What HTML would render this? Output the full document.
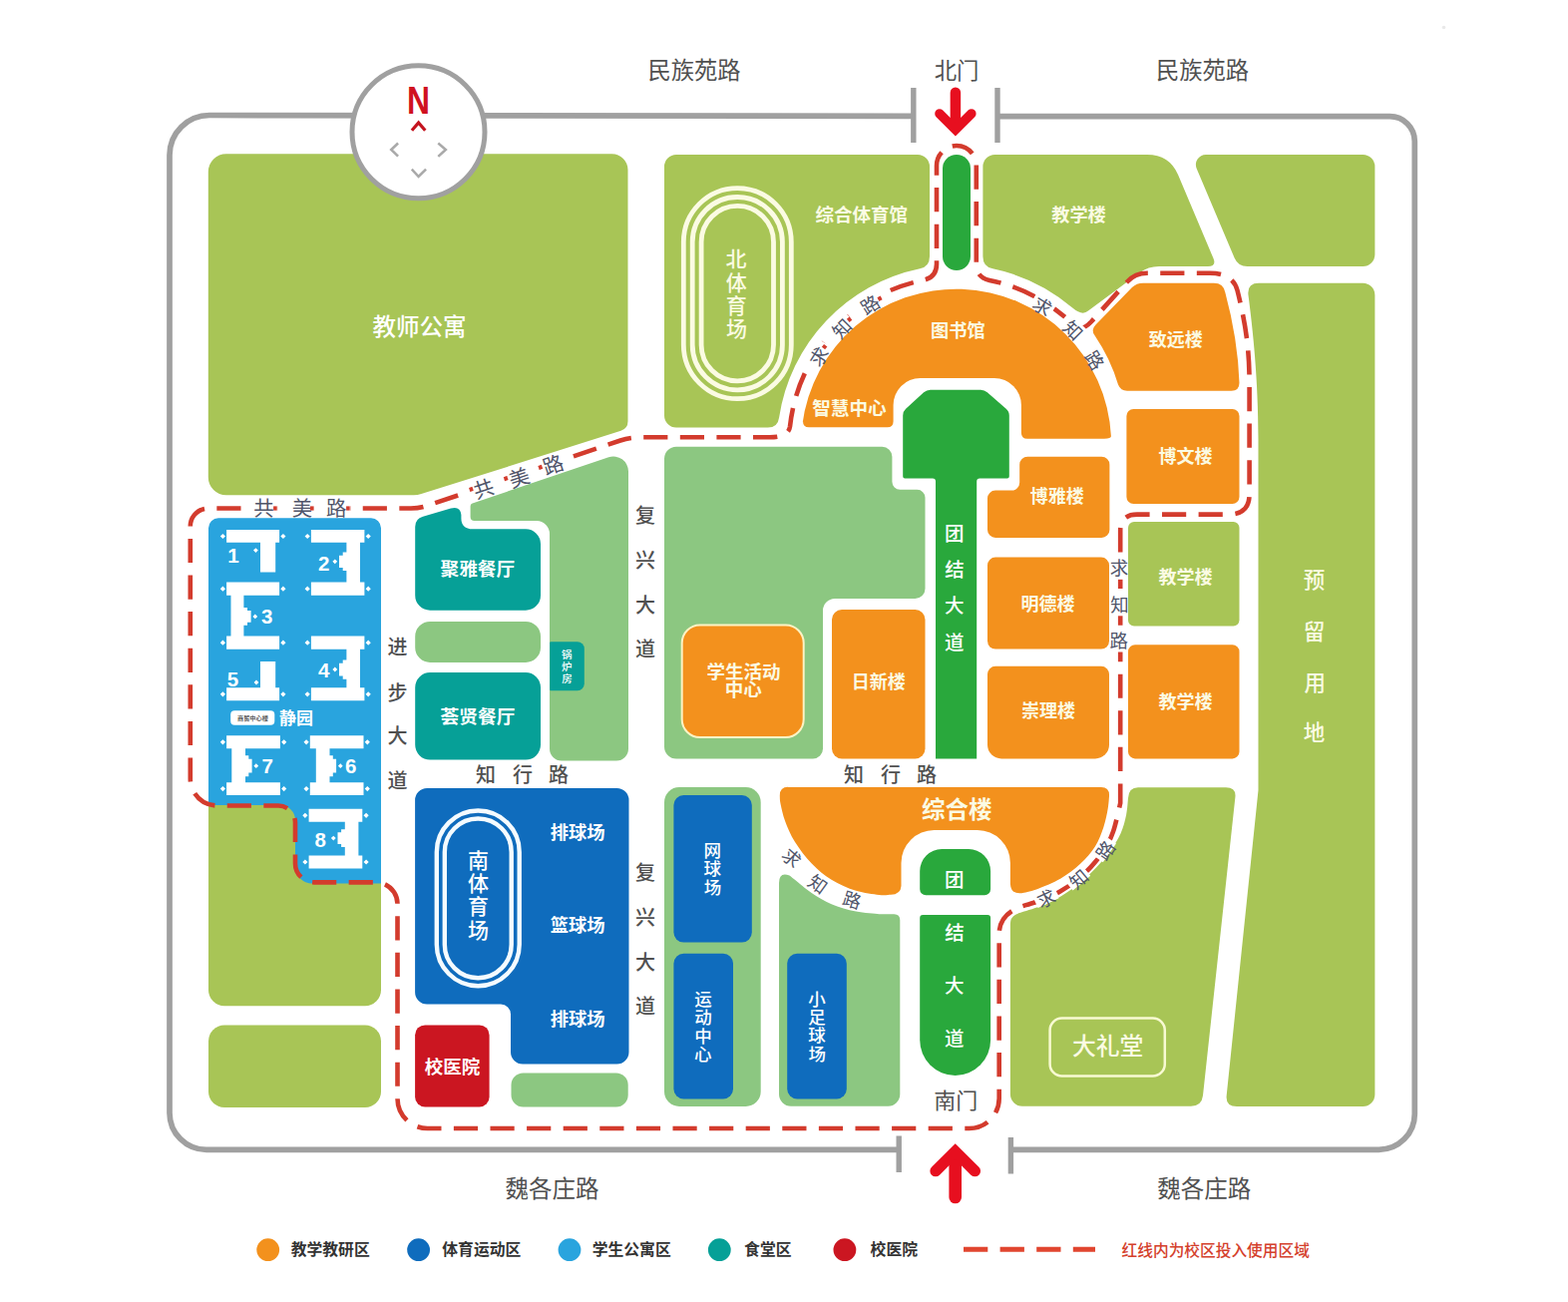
<!DOCTYPE html>
<html lang="zh"><head><meta charset="utf-8"><title>校园平面图</title>
<style>html,body{margin:0;padding:0;background:#fff;font-family:"Liberation Sans","Noto Sans CJK SC",sans-serif}svg{display:block}svg text{font-family:"Liberation Sans","Noto Sans CJK SC",sans-serif}</style>
</head><body>
<svg width="1572" height="1305" viewBox="0 0 1572 1305">
<rect width="1572" height="1305" fill="#fff"/>
<path d="M915.8,116.3 L210,115.5 A40,40 0 0 0 170,155.5 V1115.4 A37,37 0 0 0 207,1152.4 H901.2M1013.4,1152.4 H1382.3 A36,36 0 0 0 1418.3,1116.4 V141.7 A25,25 0 0 0 1393.3,116.7 H1000" fill="none" stroke="#a0a0a0" stroke-width="5.7"/>
<path d="M915.8,88V143M1000,88V143M901.2,1138.5V1175M1013.4,1140V1176.5" fill="none" stroke="#a0a0a0" stroke-width="5.4"/>
<path d="M208.8,172.2A18,18 0 0 1 226.8,154.2L613.5,154.2A16,16 0 0 1 629.5,170.2L629.5,422.3A10,10 0 0 1 622.5,431.8L422.4,495.1A25,25 0 0 1 414.8,496.3L226.8,496.3A18,18 0 0 1 208.8,478.3Z" fill="#a8c556"/>
<path d="M678,155H920A12,12 0 0 1 932,167V257Q932,267.5 922.2,269.2 A179.5,179.5 0 0 0 781.1,418.5 Q779.8,428.6 769.8,428.6H678A12,12 0 0 1 666,416.6V167A12,12 0 0 1 678,155Z" fill="#a8c556"/>
<path d="M997.4,155H1150 Q1172.4,155 1181,175 L1216.5,259 Q1219.8,267 1211,267 H1162 Q1151,267 1143,273 L1091,311.5 Q1085,317 1075.2,308.5 A179.5,179.5 0 0 0 995.3,269.3 Q985.4,267.5 985.4,257 V167 A12,12 0 0 1 997.4,155Z" fill="#a8c556"/>
<path d="M1199.7,168.9A10,10 0 0 1 1208.9,155L1366.4,155A12,12 0 0 1 1378.4,167L1378.4,255A12,12 0 0 1 1366.4,267L1250.5,267A14,14 0 0 1 1237.6,258.5Z" fill="#a8c556"/>
<path d="M1262,283.7H1366.4A12,12 0 0 1 1378.4,295.7V1097A12,12 0 0 1 1366.4,1109H1240Q1228.5,1109 1229.7,1098L1261.5,792V440C1261.5,380 1256,330 1251.5,296Q1250,283.7 1262,283.7Z" fill="#a8c556"/>
<path d="M1012.9,1096.7V926Q1012.9,918 1021,915.5C1022,915.2 1021.8,915.4 1026.8,913.6C1031.8,911.9 1043.1,908.9 1051.3,905C1059.5,901.1 1068.4,895.6 1075.8,890.3C1083.2,885 1089.3,879.3 1095.4,873.2C1101.5,867.1 1107.9,859.8 1112.6,853.5C1117.3,847.2 1120.8,841.3 1123.6,835.2C1126.3,829.1 1127.9,822.7 1129.1,816.8C1130.3,810.9 1130.7,802.8 1131,800Q1131.5,789.2 1141,789.2H1229Q1239.5,789.2 1238.4,799L1206,1098Q1204.8,1108.7 1194,1108.7H1024.9A12,12 0 0 1 1012.9,1096.7Z" fill="#a8c556"/>
<path d="M1131,529A6,6 0 0 1 1137,523L1236.5,523A6,6 0 0 1 1242.5,529L1242.5,621.4A6,6 0 0 1 1236.5,627.4L1137,627.4A6,6 0 0 1 1131,621.4Z" fill="#a8c556"/>
<path d="M209,800H382V992.3A16,16 0 0 1 366,1008.3H225A16,16 0 0 1 209,992.3Z" fill="#a8c556"/>
<path d="M209,1043.6A16,16 0 0 1 225,1027.6L366,1027.6A16,16 0 0 1 382,1043.6L382,1094A16,16 0 0 1 366,1110L225,1110A16,16 0 0 1 209,1094Z" fill="#a8c556"/>
<path d="M471.6,507.4A3,3 0 0 1 473.6,504.5L610.2,458.3A15,15 0 0 1 630,472.5L630,750.5A12,12 0 0 1 618,762.5L563,762.5A12,12 0 0 1 551,750.5L551,535.1A13,13 0 0 0 538,522.1L475.6,522.1A4,4 0 0 1 471.6,518.1Z" fill="#8cc781"/>
<path d="M416.2,637.9A15,15 0 0 1 431.2,622.9L527,622.9A15,15 0 0 1 542,637.9L542,649A15,15 0 0 1 527,664L431.2,664A15,15 0 0 1 416.2,649Z" fill="#8cc781"/>
<path d="M666,459.8A12,12 0 0 1 678,447.8L884.4,447.8A10,10 0 0 1 894.4,457.8L894.4,482.8A8,8 0 0 0 902.4,490.8L919.5,490.8A8,8 0 0 1 927.5,498.8L927.5,590A10,10 0 0 1 917.5,600L837,600A12,12 0 0 0 825,612L825,750.4A10,10 0 0 1 815,760.4L678,760.4A12,12 0 0 1 666,748.4Z" fill="#8cc781"/>
<path d="M666,804A15,15 0 0 1 681,789L747.7,789A15,15 0 0 1 762.7,804L762.7,1094A15,15 0 0 1 747.7,1109L681,1109A15,15 0 0 1 666,1094Z" fill="#8cc781"/>
<path d="M781,1096.7V885Q781,873.5 791.5,877.5C792.4,878.2 793.1,878.8 796.9,881.7C800.6,884.7 807.9,891.1 814,895.2C820.1,899.3 826.2,903.1 833.6,906.2C841,909.3 850.1,911.9 858.1,913.6C866.1,915.3 877.5,915.8 881.4,916.3H896.3Q902.3,916.3 902.3,922.3V1096.7A12,12 0 0 1 890.3,1108.7H793A12,12 0 0 1 781,1096.7Z" fill="#8cc781"/>
<path d="M512.5,1087.6A12,12 0 0 1 524.5,1075.6L617.7,1075.6A12,12 0 0 1 629.7,1087.6L629.7,1097.4A12,12 0 0 1 617.7,1109.4L524.5,1109.4A12,12 0 0 1 512.5,1097.4Z" fill="#8cc781"/>
<path d="M416.2,596.7V528Q416.2,520 424,517.8L452,509.6Q461.4,507 462.4,516V519.5Q462.4,530.3 474,530.3H527A15,15 0 0 1 542,545.3V596.7A15,15 0 0 1 527,611.7H431.2A15,15 0 0 1 416.2,596.7Z" fill="#06a097"/>
<path d="M416.2,689A15,15 0 0 1 431.2,674L527,674A15,15 0 0 1 542,689L542,746.6A15,15 0 0 1 527,761.6L431.2,761.6A15,15 0 0 1 416.2,746.6Z" fill="#06a097"/>
<path d="M551.2,644.3A1,1 0 0 1 552.2,643.3L578.8,643.3A7,7 0 0 1 585.8,650.3L585.8,685.3A7,7 0 0 1 578.8,692.3L552.2,692.3A1,1 0 0 1 551.2,691.3Z" fill="#06a097"/>
<path d="M416.1,801.9A12,12 0 0 1 428.1,789.9L618.5,789.9A12,12 0 0 1 630.5,801.9L630.5,1054.5A12,12 0 0 1 618.5,1066.5L524,1066.5A12,12 0 0 1 512,1054.5L512,1016.6A10,10 0 0 0 502,1006.6L428.1,1006.6A12,12 0 0 1 416.1,994.6Z" fill="#0f6cbd"/>
<path d="M675.4,807A10,10 0 0 1 685.4,797L743.8,797A10,10 0 0 1 753.8,807L753.8,934.6A10,10 0 0 1 743.8,944.6L685.4,944.6A10,10 0 0 1 675.4,934.6Z" fill="#0f6cbd"/>
<path d="M675.4,965.8A10,10 0 0 1 685.4,955.8L725,955.8A10,10 0 0 1 735,965.8L735,1091.4A10,10 0 0 1 725,1101.4L685.4,1101.4A10,10 0 0 1 675.4,1091.4Z" fill="#0f6cbd"/>
<path d="M789.2,965.8A10,10 0 0 1 799.2,955.8L838.8,955.8A10,10 0 0 1 848.8,965.8L848.8,1091.4A10,10 0 0 1 838.8,1101.4L799.2,1101.4A10,10 0 0 1 789.2,1091.4Z" fill="#0f6cbd"/>
<path d="M219,519.3H372A10,10 0 0 1 382,529.3V885.5H313A17,17 0 0 1 296,868.5V822A15,15 0 0 0 281,807H209V529.3A10,10 0 0 1 219,519.3Z" fill="#29a4de"/>
<path d="M805,421Q803.7,431.4 804.3,426 A155.5,155.5 0 0 1 1113.9,436.9 Q1114.5,439.8 1107,439.8H1030Q1023.9,439.8 1023.9,433.8V406A27,27 0 0 0 996.9,379H922.6A27,27 0 0 0 895.6,406V422.3Q895.6,428.3 889.6,428.3H811Q804.5,428.3 805,421Z" fill="#f3911d"/>
<path d="M1146,283.7H1217Q1226.5,283.7 1228.3,293Q1241,340 1242.5,383.7Q1242.5,391.7 1234.5,391.7H1130Q1123.5,391.7 1121,385.5A176,176 0 0 0 1098,337Q1093,331 1098.5,325.5L1135,288Q1139.5,283.7 1146,283.7Z" fill="#f3911d"/>
<path d="M1129.4,417A7,7 0 0 1 1136.4,410L1235.5,410A7,7 0 0 1 1242.5,417L1242.5,498A7,7 0 0 1 1235.5,505L1136.4,505A7,7 0 0 1 1129.4,498Z" fill="#f3911d"/>
<path d="M1022.2,465.7A8,8 0 0 1 1030.2,457.7L1104.4,457.7A8,8 0 0 1 1112.4,465.7L1112.4,530.9A8,8 0 0 1 1104.4,538.9L998,538.9A8,8 0 0 1 990,530.9L990,499.6A8,8 0 0 1 998,491.6L1014.2,491.6A8,8 0 0 0 1022.2,483.6Z" fill="#f3911d"/>
<path d="M990,566.6A8,8 0 0 1 998,558.6L1104,558.6A8,8 0 0 1 1112,566.6L1112,642.6A8,8 0 0 1 1104,650.6L998,650.6A8,8 0 0 1 990,642.6Z" fill="#f3911d"/>
<path d="M990,675.8A8,8 0 0 1 998,667.8L1104,667.8A8,8 0 0 1 1112,675.8L1112,746.4A14,14 0 0 1 1098,760.4L1004,760.4A14,14 0 0 1 990,746.4Z" fill="#f3911d"/>
<path d="M1131,653.3A7,7 0 0 1 1138,646.3L1235.5,646.3A7,7 0 0 1 1242.5,653.3L1242.5,753.4A7,7 0 0 1 1235.5,760.4L1138,760.4A7,7 0 0 1 1131,753.4Z" fill="#f3911d"/>
<path d="M834,621A10,10 0 0 1 844,611L917.5,611A10,10 0 0 1 927.5,621L927.5,750.4A10,10 0 0 1 917.5,760.4L844,760.4A10,10 0 0 1 834,750.4Z" fill="#f3911d"/>
<path d="M683.7,644.4A18,18 0 0 1 701.7,626.4L787.7,626.4A18,18 0 0 1 805.7,644.4L805.7,721A18,18 0 0 1 787.7,739L701.7,739A18,18 0 0 1 683.7,721Z" fill="#f3911d" stroke="#fdf3c4" stroke-width="2"/>
<path d="M790,789H1104Q1112.5,789 1112,798C1111.8,800.1 1111.6,805.4 1110.7,810.6C1109.8,815.8 1108.5,822.7 1106.4,829C1104.3,835.3 1101.8,842.5 1097.9,848.6C1094,854.7 1088.8,860.5 1083.1,865.8C1077.4,871.1 1070.8,876.2 1063.5,880.5C1056.2,884.8 1045.5,889 1039,891.5C1032.5,894 1026.8,894.6 1024.3,895.2Q1013.5,896.5 1012.9,886V865A33,33 0 0 0 979.9,832H936.5A33,33 0 0 0 903.5,865V888Q903,896.5 893,896.8C891.1,896.8 887.2,897.7 881.4,897C875.6,896.3 866.1,895.3 858.1,892.8C850.1,890.2 841,886.2 833.6,881.7C826.2,877.2 820.1,872.1 814,865.8C807.9,859.5 801.4,850.9 796.9,843.7C792.4,836.6 789.5,829.2 787.1,822.9C784.7,816.6 783.5,810.1 782.6,806C781.7,801.9 781.9,799.3 781.8,798Q781.5,788.8 790,788.8Z" fill="#f3911d"/>
<path d="M945,169A14,14 0 0 1 959,155L959,155A14,14 0 0 1 973,169L973,257A14,14 0 0 1 959,271L959,271A14,14 0 0 1 945,257Z" fill="#29a83c"/>
<path d="M905.2,416.5A9,9 0 0 1 908.1,409.8L926.1,393.3A10,10 0 0 1 932.9,390.7L983.2,390.7A10,10 0 0 1 989.8,393.2L1008.7,409.8A9,9 0 0 1 1011.8,416.6L1011.8,477.6A2,2 0 0 1 1009.8,479.6L982.2,479.6A3,3 0 0 0 979.2,482.6L979.2,760.4L938,760.4L938,482.6A3,3 0 0 0 935,479.6L907.2,479.6A2,2 0 0 1 905.2,477.6Z" fill="#29a83c"/>
<path d="M922.2,873.1A22,22 0 0 1 944.2,851.1L971.1,851.1A22,22 0 0 1 993.1,873.1L993.1,891.2A6,6 0 0 1 987.1,897.2L928.2,897.2A6,6 0 0 1 922.2,891.2Z" fill="#29a83c"/>
<path d="M922.2,920A3,3 0 0 1 925.2,917L990.1,917A3,3 0 0 1 993.1,920L993.1,1042.5A35.4,35.4 0 0 1 957.7,1077.9L957.6,1077.9A35.4,35.4 0 0 1 922.2,1042.5Z" fill="#29a83c"/>
<path d="M416.1,1037.4A10,10 0 0 1 426.1,1027.4L480.6,1027.4A10,10 0 0 1 490.6,1037.4L490.6,1099.4A10,10 0 0 1 480.6,1109.4L426.1,1109.4A10,10 0 0 1 416.1,1099.4Z" fill="#cb1621"/>
<path d="M1052.6,1032.6A12,12 0 0 1 1064.6,1020.6L1155.8,1020.6A12,12 0 0 1 1167.8,1032.6L1167.8,1066.5A12,12 0 0 1 1155.8,1078.5L1064.6,1078.5A12,12 0 0 1 1052.6,1066.5Z" fill="none" stroke="#f8fad2" stroke-width="2.5"/>
<rect x="685.3" y="188.6" width="108" height="211.1" rx="54" fill="none" stroke="#fbfbe3" stroke-width="4.8"/>
<rect x="694.2" y="197.5" width="90.2" height="193.3" rx="45.1" fill="none" stroke="#fbfbe3" stroke-width="4.8"/>
<rect x="703.1" y="206.4" width="72.4" height="175.5" rx="36.2" fill="none" stroke="#fbfbe3" stroke-width="4.8"/>
<rect x="437.8" y="812.5" width="82.9" height="175.7" rx="41.5" fill="none" stroke="#f4fbff" stroke-width="4.4"/>
<rect x="445.8" y="820.5" width="66.9" height="159.7" rx="33.5" fill="none" stroke="#f4fbff" stroke-width="4.4"/>
<path d="M227.1,531.1H280.1V543.8H227.1ZM220.8,537.5l2.6,-2.6l2.6,2.6l-2.6,2.6ZM281.3,537.5l2.6,-2.6l2.6,2.6l-2.6,2.6ZM261,543H276.2V573.5H261ZM254,551.6l2.4,-2.4l2.4,2.4l-2.4,2.4ZM311.9,531.1H365.4V543.8H311.9ZM305.6,537.5l2.6,-2.6l2.6,2.6l-2.6,2.6ZM366.6,537.5l2.6,-2.6l2.6,2.6l-2.6,2.6ZM347.4,543H361V585H347.4ZM343.7,553.6H347.4V572H343.7ZM340,556.7H343.7V568.9H340ZM333.4,562.8l2.4,-2.4l2.4,2.4l-2.4,2.4ZM311.9,583.6H365.4V596.8H311.9ZM305.6,590.2l2.6,-2.6l2.6,2.6l-2.6,2.6ZM366.6,590.2l2.6,-2.6l2.6,2.6l-2.6,2.6ZM227.1,583.6H280.1V596.8H227.1ZM220.8,590.2l2.6,-2.6l2.6,2.6l-2.6,2.6ZM281.3,590.2l2.6,-2.6l2.6,2.6l-2.6,2.6ZM231.5,596H244.4V639H231.5ZM244.4,609H248V626.8H244.4ZM248,612H251.6V623.8H248ZM253.4,617.9l2.4,-2.4l2.4,2.4l-2.4,2.4ZM227.1,637.6H280.1V650.8H227.1ZM220.8,644.2l2.6,-2.6l2.6,2.6l-2.6,2.6ZM281.3,644.2l2.6,-2.6l2.6,2.6l-2.6,2.6ZM311.9,637.6H365.4V650.8H311.9ZM305.6,644.2l2.6,-2.6l2.6,2.6l-2.6,2.6ZM366.6,644.2l2.6,-2.6l2.6,2.6l-2.6,2.6ZM347.4,650H361V690.5H347.4ZM343.7,661.4H347.4V680.7H343.7ZM340,664.7H343.7V677.4H340ZM333.4,671l2.4,-2.4l2.4,2.4l-2.4,2.4ZM311.9,689.3H365.4V702.3H311.9ZM305.6,695.8l2.6,-2.6l2.6,2.6l-2.6,2.6ZM366.6,695.8l2.6,-2.6l2.6,2.6l-2.6,2.6ZM261,663H276.2V690.5H261ZM227.1,689.3H280.1V702.3H227.1ZM220.8,695.8l2.6,-2.6l2.6,2.6l-2.6,2.6ZM281.3,695.8l2.6,-2.6l2.6,2.6l-2.6,2.6ZM254.6,684l2.4,-2.4l2.4,2.4l-2.4,2.4ZM227.1,737.2H280.9V750.3H227.1ZM220.8,743.8l2.6,-2.6l2.6,2.6l-2.6,2.6ZM282.1,743.8l2.6,-2.6l2.6,2.6l-2.6,2.6ZM232.3,749.5H246V785.5H232.3ZM246,757.2H249.3V778.2H246ZM249.3,760.8H252.6V774.6H249.3ZM254.4,767.7l2.4,-2.4l2.4,2.4l-2.4,2.4ZM227.1,784.2H280.9V797H227.1ZM220.8,790.6l2.6,-2.6l2.6,2.6l-2.6,2.6ZM282.1,790.6l2.6,-2.6l2.6,2.6l-2.6,2.6ZM310.8,737.2H364.5V750.3H310.8ZM304.5,743.8l2.6,-2.6l2.6,2.6l-2.6,2.6ZM365.7,743.8l2.6,-2.6l2.6,2.6l-2.6,2.6ZM316.8,749.5H330.5V785.5H316.8ZM330.5,757.2H333.8V778.2H330.5ZM333.8,760.8H337.1V774.6H333.8ZM338.9,767.7l2.4,-2.4l2.4,2.4l-2.4,2.4ZM310.8,784.2H364.5V797H310.8ZM304.5,790.6l2.6,-2.6l2.6,2.6l-2.6,2.6ZM365.7,790.6l2.6,-2.6l2.6,2.6l-2.6,2.6ZM309.6,810.8H363.3V823.8H309.6ZM303.3,817.3l2.6,-2.6l2.6,2.6l-2.6,2.6ZM364.5,817.3l2.6,-2.6l2.6,2.6l-2.6,2.6ZM345.8,823H359.4V858.8H345.8ZM342.1,831.3H345.8V849H342.1ZM338.5,834.3H342.1V846H338.5ZM331.9,840.1l2.4,-2.4l2.4,2.4l-2.4,2.4ZM309.6,857.4H363.3V870.5H309.6ZM303.3,864l2.6,-2.6l2.6,2.6l-2.6,2.6ZM364.5,864l2.6,-2.6l2.6,2.6l-2.6,2.6Z" fill="#fff"/>
<path d="M231.2,716.2A4,4 0 0 1 235.2,712.2L271.3,712.2A4,4 0 0 1 275.3,716.2L275.3,722.7A4,4 0 0 1 271.3,726.7L235.2,726.7A4,4 0 0 1 231.2,722.7Z" fill="#fff"/>
<path d="M958.9,146A19.9,19.9 0 0 1 978.8,165.9V264.7Q978.8,278.2 992,280.9A167.5,167.5 0 0 1 1079.1,328.6Q1086,331 1094,322.5L1130,282.5Q1138,273.8 1150,273.8H1213Q1236,273.8 1240.5,291C1249,325 1252.6,350 1252.6,385V495Q1252.6,515.6 1232,515.6H1140Q1123.2,515.6 1123.2,532V790Q1123.2,798 1123.2,805C1122,809.8 1118.7,825.8 1116,833.6C1113.3,841.4 1110.7,846.2 1107,852C1103.3,857.8 1098.7,863.5 1094,868.6C1089.3,873.7 1084.3,878.3 1079,882.5C1073.7,886.7 1067.5,890.8 1062,894C1056.5,897.2 1051.3,899.4 1046,901.5C1040.7,903.6 1032.7,905.9 1030,906.8Q1001.7,914 1001.7,936V1101A30,30 0 0 1 971.7,1131H428.5A30,30 0 0 1 398.5,1101V906A21.6,21.6 0 0 0 376.9,884.4H315A19,19 0 0 1 296,865.4V824.5A17,17 0 0 0 279,807.5H217.8A27,27 0 0 1 190.8,780.5V527.5A18,18 0 0 1 208.8,509.5H412Q420,509.5 427,507.3L622,441.5Q632,438.3 642,438.3H772Q790.5,438.3 792,427.5A167.5,167.5 0 0 1 925.2,280.9Q939,278.2 939,264.7V165.9A19.9,19.9 0 0 1 958.9,146Z" fill="none" stroke="#d33b2d" stroke-width="4.6" stroke-dasharray="24.2 12.4" stroke-dashoffset="6"/>
<circle cx="419.5" cy="132.2" r="66.5" fill="#fff" stroke="#a0a0a0" stroke-width="5"/>
<text x="419.5" y="114.4" font-size="38" font-weight="700" text-anchor="middle" textLength="23" lengthAdjust="spacingAndGlyphs" fill="#d0111f">N</text>
<path d="M412.9,130.8L419.6,123L426.3,130.8" fill="none" stroke="#c4141f" stroke-width="3.2" stroke-linejoin="miter"/>
<path d="M399.1,143.5L392.2,150L399.1,156.7M439.3,143.5L446.9,150L439.3,156.9M412.8,169.6L419.6,177L427.1,169.6" fill="none" stroke="#a9a9a9" stroke-width="2.5"/>
<path d="M957.9,92.8V126" fill="none" stroke="#e70f1f" stroke-width="10.5" stroke-linecap="round"/>
<path d="M941.9,113.9L957.9,129.9L973.9,113.9" fill="none" stroke="#e70f1f" stroke-width="9.4" stroke-linecap="round" stroke-linejoin="miter"/>
<path d="M957.7,1160V1200" fill="none" stroke="#e70f1f" stroke-width="12.6" stroke-linecap="round"/>
<path d="M938,1173.7L957.7,1154.1L977.4,1173.7" fill="none" stroke="#e70f1f" stroke-width="11.3" stroke-linecap="round" stroke-linejoin="miter"/>
<circle cx="1447.5" cy="27.5" r="1.8" fill="#e9e9e9"/>
<circle cx="268.7" cy="1252.7" r="11.4" fill="#f3911d"/>
<circle cx="419.6" cy="1252.7" r="11.4" fill="#0f6cbd"/>
<circle cx="571" cy="1252.7" r="11.4" fill="#29a4de"/>
<circle cx="721.3" cy="1252.7" r="11.4" fill="#06a097"/>
<circle cx="846.9" cy="1252.7" r="11.4" fill="#cb1621"/>
<path d="M966,1252.3H1098" fill="none" stroke="#e1452f" stroke-width="5" stroke-dasharray="24.3 12.3"/>
<g fill="#505050"><text x="649.4" y="78.8" font-size="23.3">民族苑路</text></g>
<g fill="#505050"><text x="936.7" y="78.5" font-size="22.4">北门</text></g>
<g fill="#505050"><text x="1158.9" y="78.8" font-size="23.3">民族苑路</text></g>
<g fill="#505050"><text x="506.4" y="1200.3" font-size="23.5">魏各庄路</text></g>
<g fill="#505050"><text x="1160.3" y="1200.3" font-size="23.5">魏各庄路</text></g>
<g fill="#505050"><text x="936.2" y="1110.8" font-size="22">南门</text></g>
<g>
<rect x="251" y="503.8" width="27" height="10" fill="#fff"/>
<text x="254.2" y="516.5" font-size="20.5" fill="#50556a">共</text>
<rect x="289.5" y="503.8" width="27" height="10" fill="#fff"/>
<text x="292.7" y="516.7" font-size="20.5" fill="#50556a">美</text>
<rect x="324" y="503.8" width="27" height="10" fill="#fff"/>
<text x="327.1" y="516.6" font-size="20.5" fill="#50556a">路</text>
</g>
<rect x="274.1" y="507.4" width="3.6" height="4.2" fill="#d33b2d" transform="rotate(0 275.9 509.5)"/>
<rect x="311" y="507.4" width="3.6" height="4.2" fill="#d33b2d" transform="rotate(0 312.8 509.5)"/>
<rect x="347.1" y="507.4" width="3.6" height="4.2" fill="#d33b2d" transform="rotate(0 348.9 509.5)"/>
<g>
<rect x="469.8" y="484.6" width="30" height="10" fill="#fff" transform="rotate(-18.5 484.8 489.6)"/>
<text x="474.5" y="497.3" font-size="20.5" fill="#50556a" transform="rotate(-18.5 484.8 489.6)">共</text>
<rect x="505.5" y="473.4" width="30" height="10" fill="#fff" transform="rotate(-18.5 520.5 478.4)"/>
<text x="510.2" y="486.3" font-size="20.5" fill="#50556a" transform="rotate(-18.5 520.5 478.4)">美</text>
<rect x="539.7" y="460.5" width="30" height="10" fill="#fff" transform="rotate(-18.5 554.7 465.5)"/>
<text x="544.3" y="473.3" font-size="20.5" fill="#50556a" transform="rotate(-18.5 554.7 465.5)">路</text>
</g>
<rect x="470.6" y="488.3" width="3.6" height="4.2" fill="#d33b2d" transform="rotate(-18.5 472.4 490.4)"/>
<rect x="505.4" y="477.5" width="3.6" height="4.2" fill="#d33b2d" transform="rotate(-18.5 507.2 479.6)"/>
<rect x="540" y="466.3" width="3.6" height="4.2" fill="#d33b2d" transform="rotate(-18.5 541.8 468.4)"/>
<g fill="#505050" font-size="20" font-weight="500">
<text x="388.5" y="656">进</text>
<text x="388.6" y="702">步</text>
<text x="388.5" y="745.2">大</text>
<text x="388.5" y="789.5">道</text>
</g>
<g fill="#505050" font-size="20" font-weight="500">
<text x="637" y="523.6">复</text>
<text x="637.1" y="569.1">兴</text>
<text x="637" y="613.6">大</text>
<text x="637" y="657.7">道</text>
</g>
<g fill="#505050" font-size="20" font-weight="500">
<text x="637" y="881.6">复</text>
<text x="637.1" y="927.1">兴</text>
<text x="637" y="972.2">大</text>
<text x="637" y="1016.1">道</text>
</g>
<g fill="#505050" font-size="20" font-weight="500">
<text x="477.1" y="784.2">知</text>
<text x="513.9" y="784.2">行</text>
<text x="549.9" y="784.2">路</text>
</g>
<g fill="#505050" font-size="20" font-weight="500">
<text x="846.1" y="783.6">知</text>
<text x="882.9" y="783.6">行</text>
<text x="918.9" y="783.6">路</text>
</g>
<g>
<rect x="802.8" y="350" width="29" height="10" fill="#fff" transform="rotate(-57 817.3 355)"/>
<text x="811.7" y="364.5" font-size="18.5" fill="#50556a" transform="rotate(-57 821 357.5)">求</text>
<rect x="825.7" y="321.6" width="29" height="10" fill="#fff" transform="rotate(-45 840.2 326.6)"/>
<text x="834.9" y="336.6" font-size="18.5" fill="#50556a" transform="rotate(-45 843.6 329.5)">知</text>
<rect x="856.1" y="297.5" width="29" height="10" fill="#fff" transform="rotate(-32 870.6 302.5)"/>
<text x="863.1" y="312.3" font-size="18.5" fill="#50556a" transform="rotate(-32 872.5 305.2)">路</text>
</g>
<rect x="824.8" y="345.5" width="3.6" height="4.2" fill="#d33b2d" transform="rotate(-52 826.6 347.6)"/>
<rect x="849.8" y="318.2" width="3.6" height="4.2" fill="#d33b2d" transform="rotate(-40 851.6 320.3)"/>
<rect x="880.2" y="297.2" width="3.6" height="4.2" fill="#d33b2d" transform="rotate(-27 882 299.3)"/>
<g>
<rect x="1035.9" y="298" width="23" height="10" fill="#fff" transform="rotate(32 1047.4 303)"/>
<text x="1035.7" y="314" font-size="18.5" fill="#50556a" transform="rotate(32 1045 307)">求</text>
<rect x="1067.5" y="322" width="23" height="10" fill="#fff" transform="rotate(45 1079 327)"/>
<text x="1066.7" y="337.7" font-size="18.5" fill="#50556a" transform="rotate(45 1075.4 330.6)">知</text>
<rect x="1188.5" y="95" width="23" height="10" fill="#fff" transform="rotate(58 1200 100)"/>
<text x="1088" y="368.3" font-size="18.5" fill="#50556a" transform="rotate(58 1097.4 361.2)">路</text>
</g>
<g>
<rect x="1117" y="557.8" width="10" height="23" fill="#fff"/>
<text x="1112.7" y="576.3" font-size="18.5" fill="#50556a">求</text>
<rect x="1117" y="594.3" width="10" height="23" fill="#fff"/>
<text x="1113.3" y="612.9" font-size="18.5" fill="#50556a">知</text>
<rect x="1117" y="630.5" width="10" height="23" fill="#fff"/>
<text x="1112.6" y="649.1" font-size="18.5" fill="#50556a">路</text>
</g>
<g>
<text x="784.6" y="866.6" font-size="18.3" fill="#50556a" transform="rotate(42 793.8 859.7)">求</text>
<text x="810.9" y="893" font-size="18.3" fill="#50556a" transform="rotate(36 819.5 886)">知</text>
<text x="845.2" y="909" font-size="18.3" fill="#50556a" transform="rotate(17 854.5 902)">路</text>
</g>
<g>
<rect x="1037.5" y="895.7" width="23" height="10" fill="#fff" transform="rotate(-25 1049 900.7)"/>
<text x="1039.8" y="907.6" font-size="18.3" fill="#50556a" transform="rotate(-25 1049 900.7)">求</text>
<rect x="1069.7" y="876.3" width="23" height="10" fill="#fff" transform="rotate(-40 1081.2 881.3)"/>
<text x="1072.6" y="888.3" font-size="18.3" fill="#50556a" transform="rotate(-40 1081.2 881.3)">知</text>
<rect x="1096.8" y="847" width="23" height="10" fill="#fff" transform="rotate(-55 1108.3 852)"/>
<text x="1099" y="859" font-size="18.3" fill="#50556a" transform="rotate(-55 1108.3 852)">路</text>
</g>
<g fill="#fff"><text x="373.6" y="336" font-size="23.5" font-weight="500">教师公寓</text></g>
<g fill="#fbfbe3"><text x="817.4" y="221.7" font-size="18.5" font-weight="700">综合体育馆</text></g>
<g fill="#fbfbe3"><text x="1054.2" y="221.5" font-size="18.2" font-weight="700">教学楼</text></g>
<g fill="#fbfbe3" font-size="21" font-weight="500">
<text x="727.6" y="267.1">北</text>
<text x="727.7" y="290.5">体</text>
<text x="727.7" y="313.7">育</text>
<text x="727.9" y="336.9">场</text>
</g>
<g fill="#fbfbe3"><text x="933" y="338" font-size="18.2" font-weight="700">图书馆</text></g>
<g fill="#fbfbe3"><text x="814.2" y="415.6" font-size="18.6" font-weight="700">智慧中心</text></g>
<g fill="#fbfbe3"><text x="1151.8" y="346.6" font-size="18" font-weight="700">致远楼</text></g>
<g fill="#fbfbe3"><text x="1161.5" y="463.9" font-size="18" font-weight="700">博文楼</text></g>
<g fill="#fbfbe3"><text x="1032.8" y="504.2" font-size="18" font-weight="700">博雅楼</text></g>
<g fill="#fbfbe3"><text x="1023.6" y="611.7" font-size="18" font-weight="700">明德楼</text></g>
<g fill="#fbfbe3"><text x="1023.9" y="719.2" font-size="18" font-weight="700">崇理楼</text></g>
<g fill="#fbfbe3"><text x="1161.6" y="584.7" font-size="18" font-weight="700">教学楼</text></g>
<g fill="#fbfbe3"><text x="1161.6" y="710.3" font-size="18" font-weight="700">教学楼</text></g>
<g fill="#fbfbe3"><text x="853.7" y="689.6" font-size="18" font-weight="700">日新楼</text></g>
<g fill="#fbfbe3"><text x="708.4" y="679.9" font-size="18.5" font-weight="700">学生活动</text></g>
<g fill="#fbfbe3"><text x="726.8" y="698" font-size="18.5" font-weight="700">中心</text></g>
<g fill="#fff"><text x="441.5" y="576.5" font-size="18.7" font-weight="700">聚雅餐厅</text></g>
<g fill="#fff"><text x="441.6" y="724.8" font-size="18.7" font-weight="700">荟贤餐厅</text></g>
<g fill="#fff" font-size="10.5" font-weight="500">
<text x="563.1" y="660.2">锅</text>
<text x="563.1" y="672.1">炉</text>
<text x="563.2" y="684">房</text>
</g>
<g fill="#fff" font-size="19.5" font-weight="500">
<text x="947" y="541.6">团</text>
<text x="947.2" y="577.7">结</text>
<text x="946.9" y="614.2">大</text>
<text x="946.9" y="650.9">道</text>
</g>
<g fill="#fff" font-size="19.5" font-weight="500">
<text x="947" y="888.6">团</text>
<text x="947.2" y="941.9">结</text>
<text x="946.9" y="995.2">大</text>
<text x="946.9" y="1048.2">道</text>
</g>
<g fill="#fbfbe3"><text x="924.1" y="820" font-size="23.5" font-weight="700">综合楼</text></g>
<g fill="#fbfbe3" font-size="21.5" font-weight="500">
<text x="1306.8" y="589.1">预</text>
<text x="1306.8" y="641.2">留</text>
<text x="1307.6" y="691.6">用</text>
<text x="1306.8" y="742.4">地</text>
</g>
<g fill="#fbfbe3"><text x="1075" y="1056.9" font-size="23.8" font-weight="500">大礼堂</text></g>
<g fill="#fff" font-size="21" font-weight="500">
<text x="468.9" y="870.4">南</text>
<text x="468.9" y="893.4">体</text>
<text x="468.9" y="916.4">育</text>
<text x="469.1" y="940.3">场</text>
</g>
<g fill="#fff"><text x="551.7" y="841.4" font-size="18.3" font-weight="700">排球场</text></g>
<g fill="#fff"><text x="551.8" y="934.4" font-size="18.3" font-weight="700">篮球场</text></g>
<g fill="#fff"><text x="551.7" y="1027.6" font-size="18.3" font-weight="700">排球场</text></g>
<g fill="#fff"><text x="425.7" y="1075.5" font-size="18.5" font-weight="700">校医院</text></g>
<g fill="#fff" font-size="17.5" font-weight="500">
<text x="705.6" y="858.7">网</text>
<text x="705.6" y="877.4">球</text>
<text x="705.8" y="895.5">场</text>
</g>
<g fill="#fff" font-size="17.5" font-weight="500">
<text x="696.2" y="1007.6">运</text>
<text x="696.3" y="1026">动</text>
<text x="696.2" y="1044.5">中</text>
<text x="696.1" y="1062.6">心</text>
</g>
<g fill="#fff" font-size="17.5" font-weight="500">
<text x="810.2" y="1007.9">小</text>
<text x="810.2" y="1025.8">足</text>
<text x="810.2" y="1044.4">球</text>
<text x="810.4" y="1062.6">场</text>
</g>
<g fill="#fff"><text x="280.1" y="726.4" font-size="17" font-weight="700">静园</text></g>
<g fill="#5a5a5a"><text x="238" y="722" font-size="6.2" font-weight="700">商贸中心楼</text></g>
<g fill="#fff" font-size="20.5" font-weight="700">
<text x="228.3" y="563.7">1</text>
<text x="318.9" y="571.7">2</text>
<text x="261.9" y="624.8">3</text>
<text x="319" y="679">4</text>
<text x="227.7" y="688.3">5</text>
<text x="262.4" y="774.6">7</text>
<text x="346.1" y="774.6">6</text>
<text x="315.5" y="849">8</text>
</g>
<g fill="#333"><text x="291.7" y="1258.3" font-size="15.8" font-weight="700">教学教研区</text></g>
<g fill="#333"><text x="443.3" y="1258.3" font-size="15.8" font-weight="700">体育运动区</text></g>
<g fill="#333"><text x="593.7" y="1258.4" font-size="15.8" font-weight="700">学生公寓区</text></g>
<g fill="#333"><text x="746.1" y="1258.4" font-size="15.8" font-weight="700">食堂区</text></g>
<g fill="#333"><text x="872.6" y="1258.4" font-size="15.8" font-weight="700">校医院</text></g>
<g fill="#d4402c"><text x="1124.6" y="1258.7" font-size="15.7" font-weight="500">红线内为校区投入使用区域</text></g>
</svg>
</body></html>
